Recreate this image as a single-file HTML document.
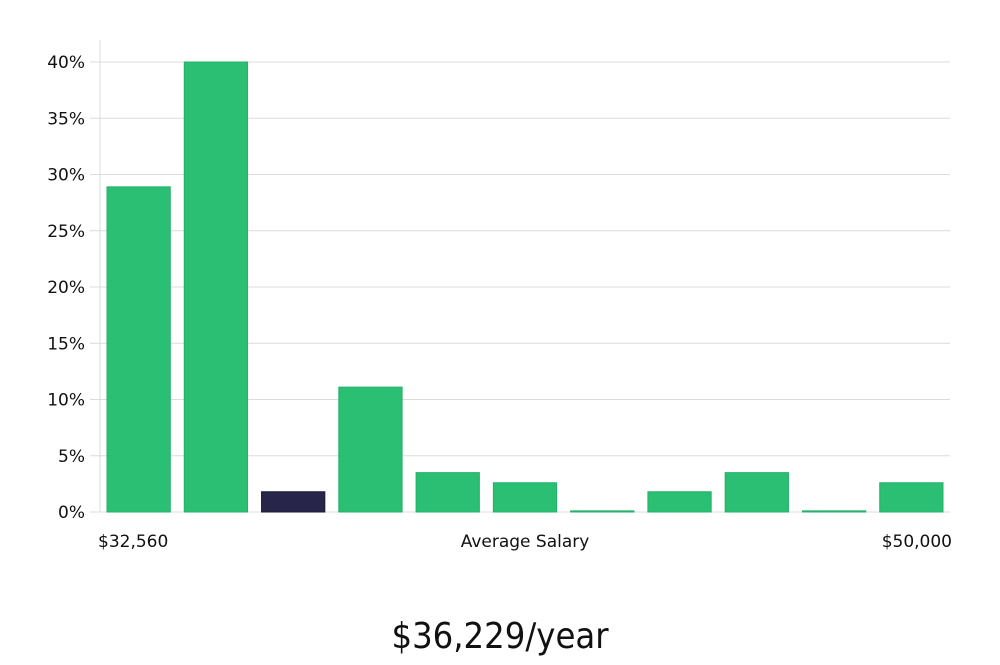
<!DOCTYPE html>
<html><head><meta charset="utf-8"><style>
body{margin:0;background:#fff;}
svg text{font-family:"DejaVu Sans","Liberation Sans",sans-serif;fill:#111;}
</style></head><body>
<svg id="chart" width="1000" height="660" viewBox="0 0 1000 660" xmlns="http://www.w3.org/2000/svg">
<g id="grid"></g><g id="bars"></g><g id="labels"></g>
<text x="98" y="547" font-size="17">$32,560</text>
<text x="525" y="547" font-size="17" text-anchor="middle">Average Salary</text>
<text x="952" y="547" font-size="17" text-anchor="end">$50,000</text>
<text x="500" y="648" font-size="36" text-anchor="middle" style="font-family:'Liberation Sans Narrow','DejaVu Sans Condensed',sans-serif;font-weight:300">$36,229/year</text>
</svg>
<script>
const binLabels=["b1","b2","b3","b4","b5","b6","b7","b8","b9","b10","b11"];
const values=[28.9,40,1.8,11.1,3.5,2.6,0.1,1.8,3.5,0.1,2.6];
const highlightIndex=2;
const yTicks=[0,5,10,15,20,25,30,35,40];
const NS="http://www.w3.org/2000/svg";
const x0=100,x1=950,y0=512,yTop=62,yMax=40;
const y=v=>y0-(v/yMax)*(y0-yTop);
const step=(x1-x0)/values.length;
const g=document.getElementById('grid'),b=document.getElementById('bars'),l=document.getElementById('labels');
function mk(tag,attrs,parent){const e=document.createElementNS(NS,tag);for(const k in attrs)e.setAttribute(k,attrs[k]);parent.appendChild(e);return e;}
const axis=mk('line',{x1:x0,x2:x0,y1:40,y2:y0,stroke:'#ddd'},g);


yTicks.forEach(t=>{
 const gl=mk('line',{x1:90,x2:x1,y1:y(t),y2:y(t),stroke:'#dcdcdc'},g);
 
 
 const tx=mk('text',{x:85,y:y(t)+6,'font-size':17,'text-anchor':'end'},l);
 tx.textContent=t+'%';
 
 
});
values.forEach((v,i)=>{
 const bx=x0+i*step+7,w=step-14;
 const h=Math.max(1,y0-y(v));
 const hi=i===highlightIndex;
 const r=mk('rect',{x:bx,y:y0-h,width:w,height:h,fill:hi?'#27264a':'#2bbf74',stroke:hi?'#1a1a35':'#24b068','stroke-width':1},b);
 
 
});
</script>
</body></html>
